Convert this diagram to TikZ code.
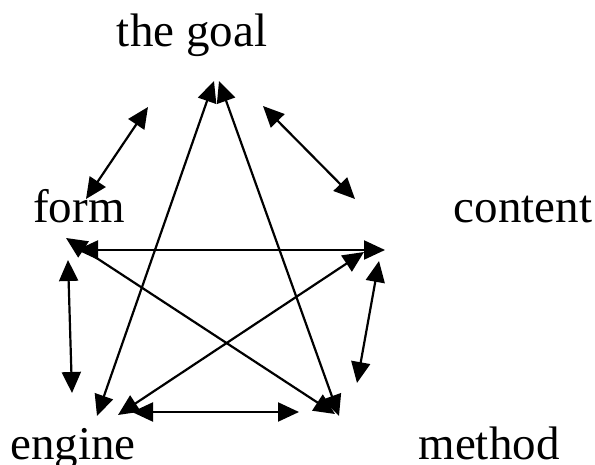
\documentclass[tikz,border=0pt]{standalone}
\usepackage{fontspec}
\setmainfont{Liberation Serif}
\usetikzlibrary{arrows.meta}
\begin{document}
\begin{tikzpicture}[x=1pt,y=-1pt,
  lbl/.style={anchor=base,inner sep=0pt,font=\fontsize{47}{50}\selectfont},
  link/.style={line width=2.2pt,{Triangle[length=21pt,width=19pt]}-{Triangle[length=21pt,width=19pt]}}]
\useasboundingbox (0,0) rectangle (595,465);
\node[lbl] (goal) at (192,47) {the goal};
\node[lbl] (form) at (79,223) {form};
\node[lbl] (content) at (523,223) {content};
\node[lbl] (engine) at (73,459) {engine};
\node[lbl] (method) at (489,459) {method};
% star end points
\coordinate (tE) at (214,81);
\coordinate (tM) at (219,81);
\coordinate (eT) at (97,416);
\coordinate (eC) at (118,415);
\coordinate (mT) at (339,416);
\coordinate (mF) at (335,414);
\coordinate (fC) at (77,250);
\coordinate (fM) at (66,238);
\coordinate (cF) at (385,250);
\coordinate (cE) at (364,252);
% outer end points
\coordinate (tf1) at (148,107);
\coordinate (tf2) at (86,199);
\coordinate (tc1) at (263,106);
\coordinate (tc2) at (355,199);
\coordinate (fe1) at (68,260);
\coordinate (fe2) at (72,393);
\coordinate (cm1) at (379,261);
\coordinate (cm2) at (357,383);
\coordinate (em1) at (132,412);
\coordinate (em2) at (299,412);
% star
\draw[link] (eT) -- (tE);
\draw[link] (mT) -- (tM);
\draw[link] (fC) -- (cF);
\draw[link] (fM) -- (mF);
\draw[link] (eC) -- (cE);
% outer
\draw[link] (tf1) -- (tf2);
\draw[link] (tc1) -- (tc2);
\draw[link] (fe1) -- (fe2);
\draw[link] (cm1) -- (cm2);
\draw[link] (em1) -- (em2);
\end{tikzpicture}
\end{document}
